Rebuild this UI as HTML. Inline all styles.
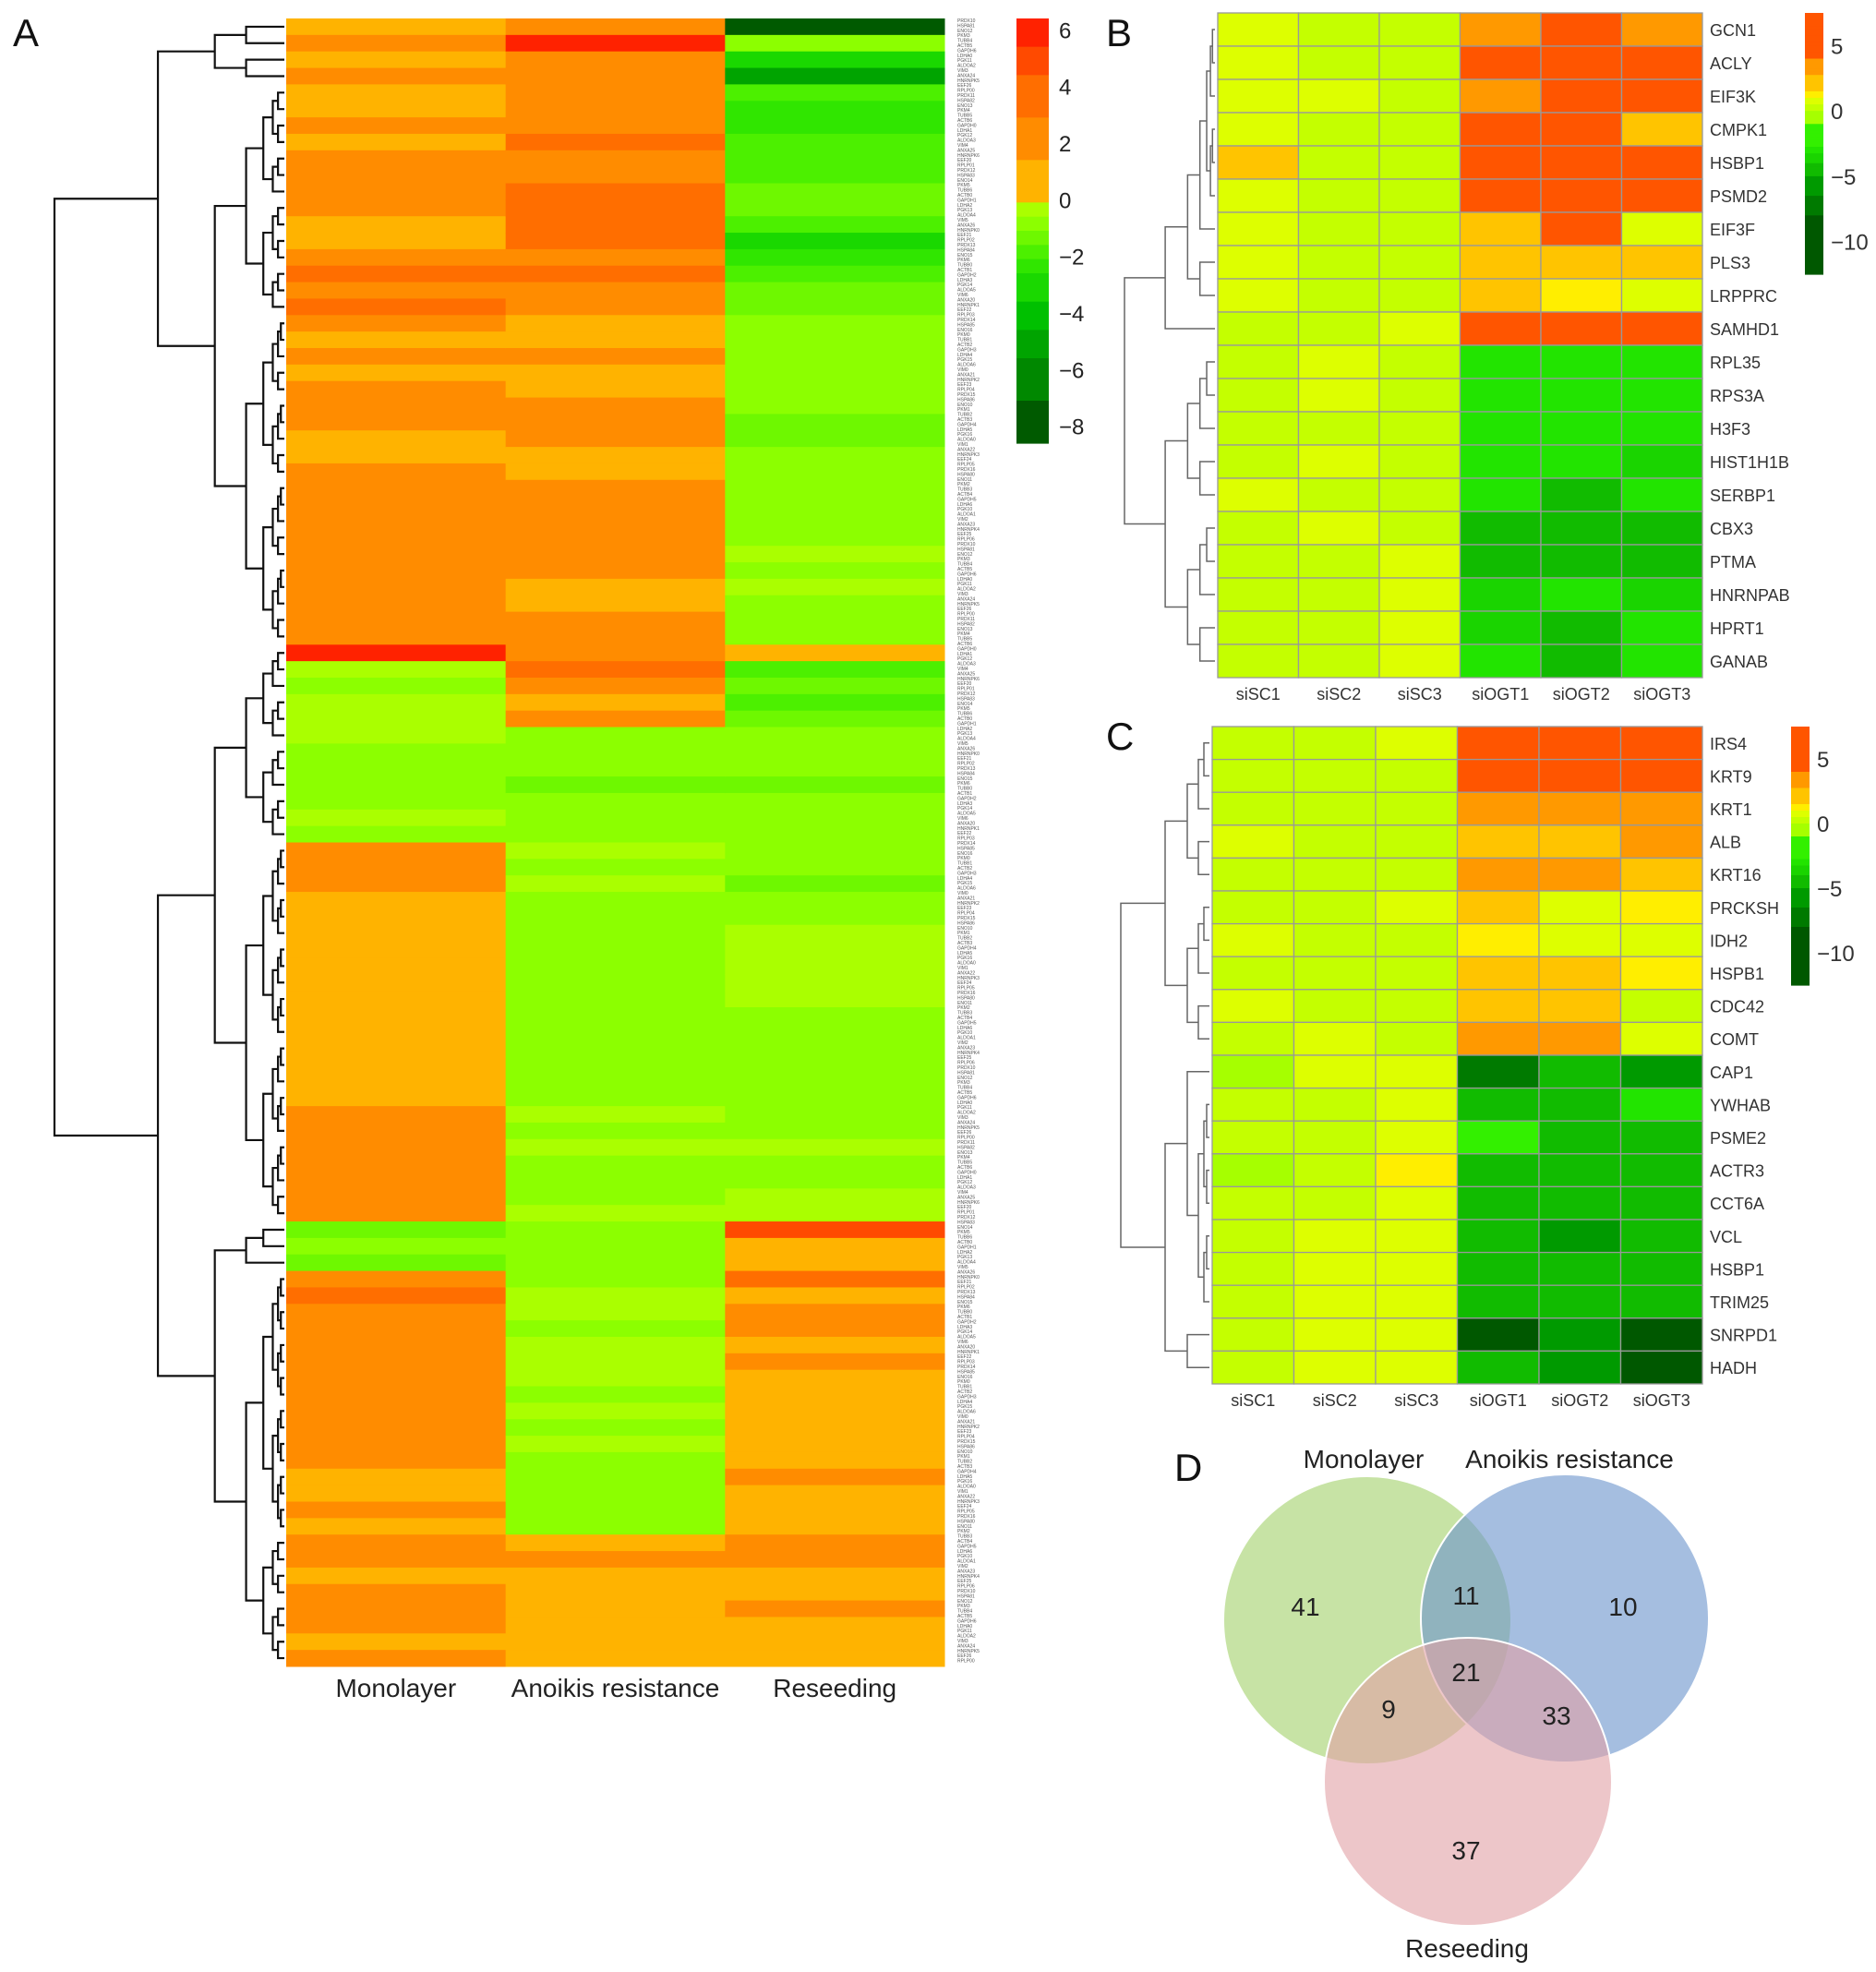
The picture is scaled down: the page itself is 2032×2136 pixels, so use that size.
<!DOCTYPE html>
<html><head><meta charset="utf-8">
<style>
html,body{margin:0;padding:0;background:#fff;}
svg{display:block;font-family:"Liberation Sans",Arial,sans-serif;}
</style></head>
<body>
<svg id="fig" width="2032" height="2136" viewBox="0 0 2032 2136" xmlns="http://www.w3.org/2000/svg">
<g id="panelA"></g>
<g id="panelB"></g>
<g id="panelC"></g>
<g id="panelD"></g>
</svg>
<script>
// ---------- Panel A data ----------
const aColumns = ["Monolayer","Anoikis resistance","Reseeding"];
const aMono = [0.8,2,0.8,2,0.8,0.8,2,0.8,2,2,2,2,0.8,0.8,2,3.5,2,3.5,2,0.8,2,0.8,2,2,2,0.8,0.8,2,2,2,2,2,2,2,2,2,2,2,
 6,
 -0.5,-1,-0.5,-0.5,-0.5,-1,-1,-1,-1,-0.5,-1,
 2,2,2,0.8,0.8,0.8,0.8,0.8,0.8,0.8,0.8,0.8,0.8,0.8,0.8,0.8,2,2,2,2,2,2,2,
 -1.5,-1,-1.5,
 2,3.5,2,2,2,2,2,2,2,2,2,2,0.8,0.8,2,0.8,
 2,2,0.8,2,2,2,0.8,2];
const aAnoikis = [2,6,2,2,2,2,2,3.5,2,2,3.5,3.5,3.5,3.5,2,3.5,2,2,0.8,0.8,2,0.8,0.8,2,2,2,0.8,0.8,2,2,2,2,2,2,0.8,0.8,2,2,
 2,
 3.5,2,0.8,2,-1,-1,-1,-1.5,-1,-1,-1,
 -0.5,-1,-0.5,-1,-1,-1,-1,-1,-1,-1,-1,-1,-1,-1,-1,-1,-0.5,-1,-0.5,-1,-1,-1,-0.5,
 -1,-1,-1,
 -1,-0.5,-0.5,-1,-0.5,-0.5,-0.5,-1,-0.5,-1,-0.5,-1,-1,-1,-1,-1,
 0.8,2,0.8,0.8,0.8,0.8,0.8,0.8];
const aReseed = [-8,-1,-3,-5,-2,-2.5,-2.5,-2,-2,-2,-1.5,-1.5,-2,-3,-2.5,-2,-1.5,-1.5,-1,-1,-1,-1,-1,-1,-1.5,-1.5,-1,-1,-1,-1,-1,-1,-0.5,-1,-0.5,-1,-1,-1,
 0.8,
 -2,-1.5,-2,-1.5,-1,-1,-1,-1.5,-1,-1,-1,
 -1,-1,-1.5,-1,-1,-0.5,-0.5,-0.5,-0.5,-0.5,-1,-1,-1,-1,-1,-1,-1,-1,-0.5,-1,-1,-0.5,-0.5,
 5,0.8,0.8,
 3.5,0.8,2,2,0.8,2,0.8,0.8,0.8,0.8,0.8,0.8,2,0.8,0.8,0.8,
 2,2,0.8,0.8,2,0.8,0.8,0.8];
const aTicks = [6,4,2,0,-2,-4,-6,-8];

// ---------- Panel B data ----------
const bSamples = ["siSC1","siSC2","siSC3","siOGT1","siOGT2","siOGT3"];
const bGenes = ["GCN1","ACLY","EIF3K","CMPK1","HSBP1","PSMD2","EIF3F","PLS3","LRPPRC","SAMHD1","RPL35","RPS3A","H3F3","HIST1H1B","SERBP1","CBX3","PTMA","HNRNPAB","HPRT1","GANAB"];
const bSC1 = [0.8,0.8,0.8,0.8,2.5,0.8,0.8,0.8,0.8,0.2,0.2,0.2,0.2,0.2,0.8,0.2,0.2,0.2,0.2,0.2];
const bSC2 = [0.2,0.2,0.8,0.2,0.2,0.2,0.2,0.2,0.2,0.2,0.8,0.8,0.2,0.8,0.2,0.8,0.2,0.2,0.2,0.2];
const bSC3 = [0.2,0.2,0.2,0.2,0.2,0.2,0.2,0.2,0.2,0.8,0.2,0.2,0.2,0.2,0.2,0.2,0.8,0.8,0.8,0.8];
const bOGT1 = [3,5,3,5,5,5,2.5,2.5,2.5,5,-3,-3,-3,-3,-3,-4.5,-4.5,-3.5,-3.5,-3];
const bOGT2 = [5,5,5,5,5,5,5,2.5,1,5,-3,-3,-3,-3,-4.5,-4.5,-4.5,-3,-4.5,-4.5];
const bOGT3 = [3,5,5,2,5,5,0.8,2.5,0.5,5,-3,-3,-3,-3.5,-3,-4.5,-4.5,-3.5,-3,-3];
const bTicks = [5,0,-5,-10];

// ---------- Panel C data ----------
const cGenes = ["IRS4","KRT9","KRT1","ALB","KRT16","PRCKSH","IDH2","HSPB1","CDC42","COMT","CAP1","YWHAB","PSME2","ACTR3","CCT6A","VCL","HSBP1","TRIM25","SNRPD1","HADH"];
const cSC1 = [0.2,0.2,0.2,0.8,0.2,0.2,0.8,0.2,0.8,0.2,-0.5,0.2,0.2,-0.5,0.2,0.2,0.2,0.2,0.2,0.2];
const cSC2 = [0.2,0.2,0.2,0.2,0.2,0.2,0.2,0.2,0.2,0.8,0.8,0.2,0.2,0.2,0.2,0.8,0.8,0.8,0.8,0.8];
const cSC3 = [0.8,0.2,0.2,0.2,0.2,0.8,0.2,0.2,0.2,0.2,0.8,0.5,0.8,1.2,0.8,0.8,0.5,0.5,0.8,0.5];
const cOGT1 = [5,5,3,2,3,2,1,2,2,3,-7,-4.5,-2.5,-4.5,-4.5,-5,-5,-4.5,-9,-5];
const cOGT2 = [5,5,3,2,3,0.8,0.8,2,2,3,-5,-4.5,-4.5,-4.5,-5,-6,-4.5,-4.5,-6,-5.5];
const cOGT3 = [4,5,3,3,2.5,1,0.8,1,0.2,0.8,-6,-3,-5,-5,-5,-5,-4.5,-4.5,-9,-9];
const cTicks = [5,0,-5,-10];

// ---------- Panel D data ----------
const vennSets = ["Monolayer","Anoikis resistance","Reseeding"];
const vennCounts = [41,10,37,11,9,33,21];

const NS="http://www.w3.org/2000/svg";
function mk(tag, attrs, parent){const e=document.createElementNS(NS,tag);for(const k in attrs)e.setAttribute(k,attrs[k]);parent.appendChild(e);return e;}
function txt(parent, x, y, s, size, anchor, fill){const t=mk('text',{x:x,y:y,'font-size':size,'text-anchor':anchor||'start',fill:fill||'#222'},parent);t.textContent=s;return t;}

function colA(v){
  if(v>=5.5)return '#ff2200'; if(v>=4.5)return '#ff4a00'; if(v>=3)return '#ff6e00'; if(v>=1.5)return '#ff8c00'; if(v>=0)return '#ffb300';
  if(v>=-0.7)return '#aaff00'; if(v>=-1.2)return '#8cff00'; if(v>=-1.7)return '#6ef800'; if(v>=-2.2)return '#4cf000'; if(v>=-2.7)return '#30e600';
  if(v>=-3.5)return '#1ad800'; if(v>=-4.5)return '#00c000'; if(v>=-5.5)return '#00a400'; if(v>=-7)return '#008800'; return '#005a00';
}
function colB(v){
  if(v>=4)return '#ff5500'; if(v>=2.7)return '#ff9900'; if(v>=1.5)return '#ffc400'; if(v>=0.9)return '#ffee00'; if(v>=0.5)return '#ddff00';
  if(v>=0)return '#c4ff00'; if(v>=-1)return '#a6ff00'; if(v>=-2.7)return '#33f000'; if(v>=-3.2)return '#22e400'; if(v>=-4)return '#1ad400';
  if(v>=-5)return '#11bb00'; if(v>=-6.5)return '#009a00'; if(v>=-8)return '#007a00'; return '#005800';
}

function dendro(parent, a, b, yOf, xLeft, xRight, splits, depth, decay){
  if(a===b) return {x:xRight, y:yOf(a)};
  let m = splits && splits[a+'-'+b]!==undefined ? splits[a+'-'+b] : Math.floor((a+b)/2);
  const L=dendro(parent,a,m,yOf,xLeft,xRight,splits,depth+1,decay);
  const R=dendro(parent,m+1,b,yOf,xLeft,xRight,splits,depth+1,decay);
  const x = xLeft + (xRight-xLeft)*(1-Math.pow(decay,depth));
  const p=mk('path',{d:`M${L.x},${L.y}H${x}V${R.y}H${R.x}`,fill:'none',stroke:parent.getAttribute('data-stroke'),'stroke-width':parent.getAttribute('data-sw')},parent);
  
  
  return {x:x, y:(L.y+R.y)/2};
}

(function(){
  const g=document.getElementById('panelA');
  const x0=310, x1=1023, y0=20, y1=1805;
  const n=aMono.length, cw=(x1-x0)/3, rh=(y1-y0)/n;
  const cols=[aMono,aAnoikis,aReseed];
  const yScale = i => y0 + i*rh;
  cols.forEach((arr,c)=>{
    arr.forEach((v,i)=>{
      const r=mk('rect',{x:x0+c*cw,y:yScale(i),width:cw+0.5,height:rh+0.5,fill:colA(v)},g);
      
      
    });
    const t=txt(g,x0+cw*c+cw/2,1838,aColumns[c],28,'middle','#222');
    
    
  });
  const dg=mk('g',{'data-stroke':'#111','data-sw':'2.2'},g);
  
  
  const splits={'0-99':37,'38-99':72,'38-72':49,'73-99':75,'0-37':3,'4-37':17,'76-99':91};
  dendro(dg,0,n-1,i=>yScale(i)+rh/2,59,308,splits,0,0.55);
  const lg=mk('g',{},g);
  
  
  const names=["PRDX1","HSPA8","ENO1","PKM","TUBB","ACTB","GAPDH","LDHA","PGK1","ALDOA","VIM","ANXA2","HNRNPK","EEF2","RPLP0"];
  for(let k=0;k<330;k++){
    txt(lg,1037,y0+4+k*5.4,names[k%names.length]+(k%7),5,'start','#555');
  }
  const cb=mk('g',{},g);
  
  
  const vTop=6.4, vBot=-8.6, cy0=20, cy1=480, cx=1101, cwid=35;
  const sy=v=>cy0+(vTop-v)/(vTop-vBot)*(cy1-cy0);
  for(let v=vTop; v>vBot; v-=0.25){ mk('rect',{x:cx,y:sy(v),width:cwid,height:(cy1-cy0)/60+0.6,fill:colA(v-0.12)},cb); }
  aTicks.forEach(t=>{ const e=txt(cb,1147,sy(t)+9,(t<0?'\u2212':'')+Math.abs(t),24,'start','#222');
      });
  const L=txt(g,14,50,'A',42,'start','#111');  
})();

function drawSmall(gid, genes, series, ticks, box, cbox, dendBox, splits, label, labelPos){
  const g=document.getElementById(gid);
  const [x0,y0,x1,y1]=box; const nR=genes.length, nC=series.length;
  const cw=(x1-x0)/nC, rh=(y1-y0)/nR;
  const yS=i=>y0+i*rh, xS=c=>x0+c*cw;
  series.forEach((arr,c)=>{
    arr.forEach((v,i)=>{
      const r=mk('rect',{x:xS(c),y:yS(i),width:cw,height:rh,fill:colB(v),stroke:'#999','stroke-width':1.3},g);
      
      
    });
    const t=txt(g,xS(c)+cw/2,y1+24,bSamples[c],18,'middle','#333');
     
  });
  genes.forEach((gn,i)=>{ const t=txt(g,x1+8,yS(i)+rh/2+7,gn,18,'start','#333');
      });
  const dg=mk('g',{'data-stroke':'#666','data-sw':'1.5'},g);
  
  
  dendro(dg,0,nR-1,i=>yS(i)+rh/2,dendBox[0],dendBox[1],splits,0,dendBox[2]);
  const [bx,by0,bw,by1]=cbox;
  const vTop=7.5, vBot=-12.5;
  const sy=v=>by0+(vTop-v)/(vTop-vBot)*(by1-by0);
  const cb=mk('g',{},g);
  
  
  for(let v=vTop; v>vBot; v-=0.25){ mk('rect',{x:bx,y:sy(v),width:bw,height:(by1-by0)/80+0.6,fill:colB(v-0.12)},cb); }
  ticks.forEach(t=>{ const e=txt(cb,bx+bw+8,sy(t)+9,(t<0?'\u2212':'')+Math.abs(t),24,'start','#333');
      });
  const L=txt(g,labelPos[0],labelPos[1],label,42,'start','#111');  
}
drawSmall('panelB',bGenes,[bSC1,bSC2,bSC3,bOGT1,bOGT2,bOGT3],bTicks,[1319,14,1844,734],[1955,14,20,297],[1218,1316,0.55],
  {'0-19':9,'0-9':8,'0-8':6,'0-6':5},'B',[1198,50]);
drawSmall('panelC',cGenes,[cSC1,cSC2,cSC3,cOGT1,cOGT2,cOGT3],cTicks,[1313,787,1844,1499],[1940,787,20,1067],[1214,1310,0.5],
  {'0-19':9,'10-19':17,'10-17':10},'C',[1198,812]);

(function(){
  const g=document.getElementById('panelD');
  const circles=[[1481,1755,156,'rgba(165,210,110,0.62)'],[1695,1753,156,'rgba(110,150,205,0.62)'],[1590,1930,156,'rgba(225,160,165,0.6)']];
  circles.forEach((c,i)=>{ const e=mk('circle',{cx:c[0],cy:c[1],r:c[2],fill:c[3],stroke:'#fff','stroke-width':2},g);
      });
  const pos=[[1414,1750],[1758,1750],[1588,2014],[1588,1738],[1504,1861],[1686,1868],[1588,1821]];
  vennCounts.forEach((v,i)=>{ const t=txt(g,pos[i][0],pos[i][1],String(v),28,'middle','#222');
      });
  const lp=[[1477,1590],[1700,1590],[1589,2120]];
  vennSets.forEach((s,i)=>{ const t=txt(g,lp[i][0],lp[i][1],s,28,'middle','#222');
      });
  const L=txt(g,1272,1604,'D',42,'start','#111');  
})();
</script>
</body></html>
